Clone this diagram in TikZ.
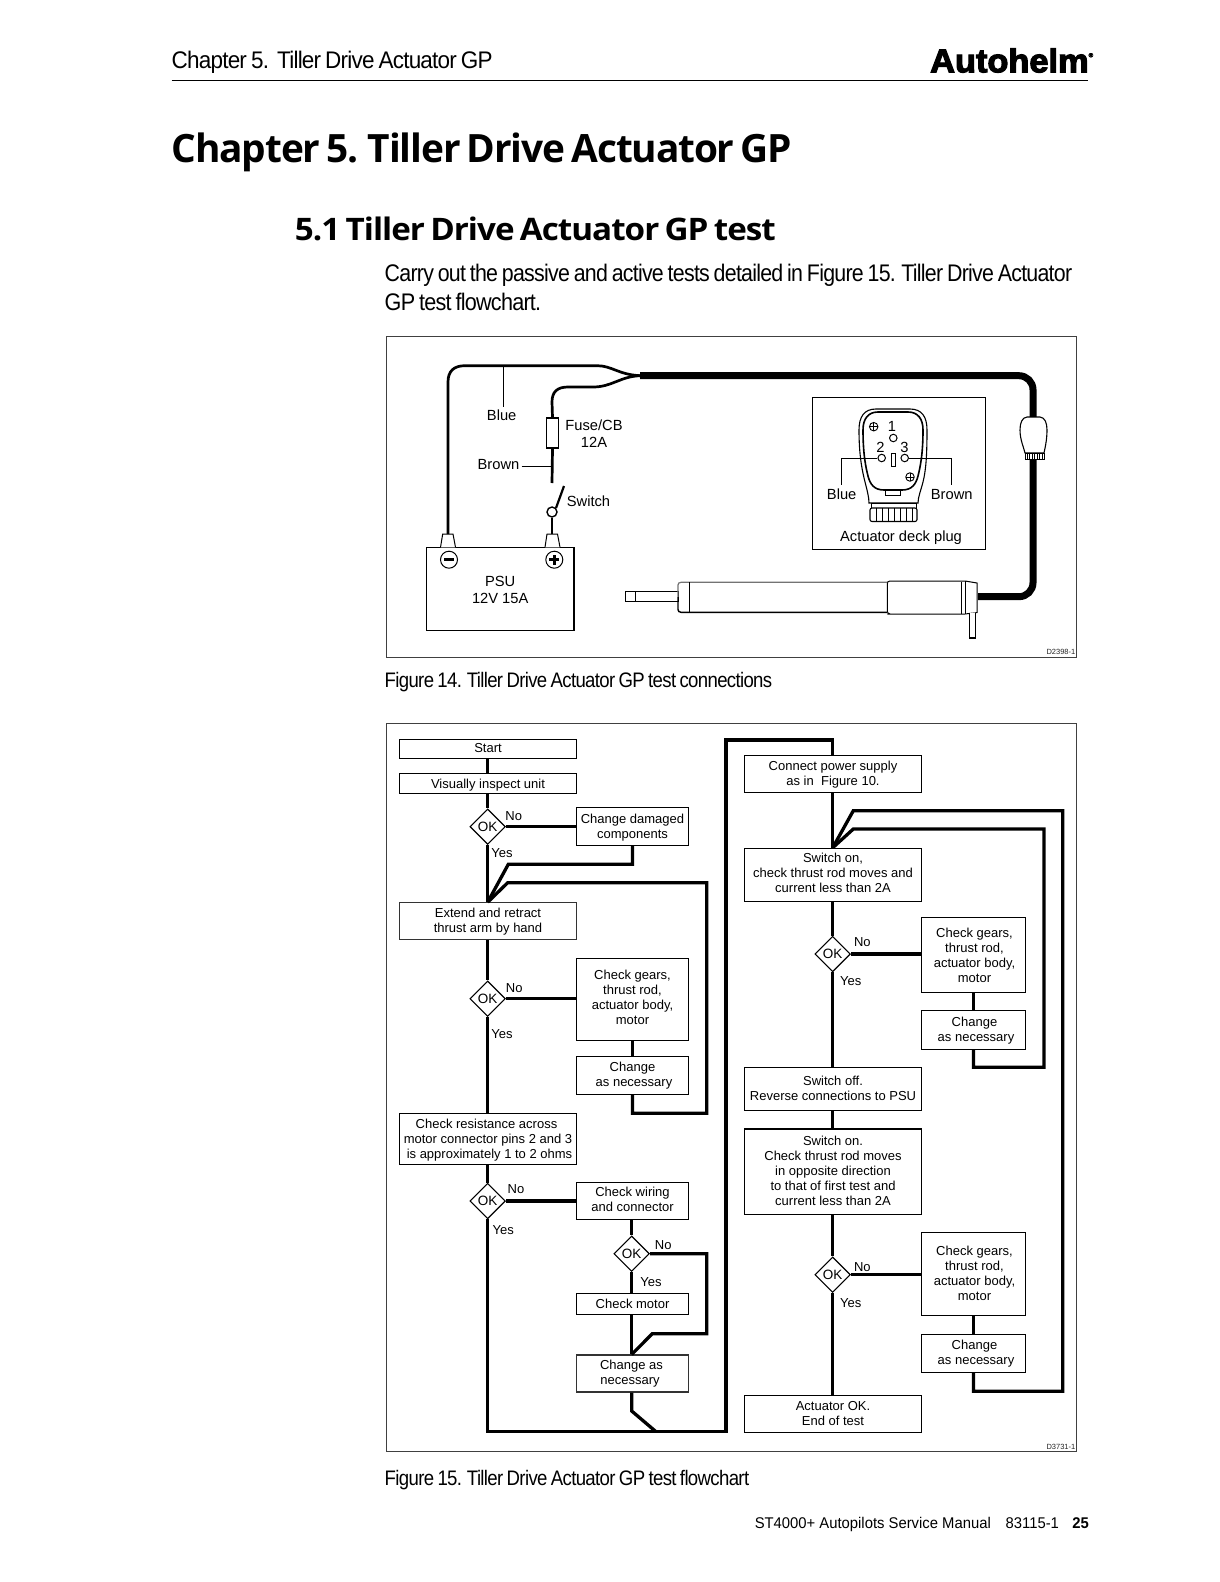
\documentclass[tikz,border=0pt]{standalone}
\usepackage{graphicx}
\usepackage{fontspec}
\setmainfont{Liberation Sans}
\newfontfamily\headfont[LetterSpace=-3,WordSpace=0.7]{Open Sans}
\newfontfamily\tightfont[LetterSpace=-3.5,WordSpace=0.75]{Liberation Sans}
\newfontfamily\logofont[FakeBold=3.5]{Liberation Sans Bold}
\usetikzlibrary{shapes.geometric}
\newcommand\fitw[2]{\resizebox{#1pt}{\height}{#2}}
\newcommand\lift[2]{\raisebox{#1}[\height][\depth]{\begin{tabular}{@{}c@{}}#2\end{tabular}}}
\tikzset{
  txt/.style={inner sep=0pt,anchor=west},
  pagetext/.style={txt,font=\tightfont\fontsize{24}{28}\selectfont},
  figcap/.style={txt,font=\tightfont\fontsize{21}{24}\selectfont},
  lab/.style={inner sep=0pt,font=\fontsize{14.7}{16.5}\selectfont,align=center},
  flowlab/.style={inner sep=0pt,font=\fontsize{13}{15}\selectfont},
  codelab/.style={inner sep=0pt,anchor=east,text=black!85,font=\fontsize{7.5}{9}\selectfont},
  framebox/.style={draw=black!75,line width=1.2pt},
  flowbox/.style={draw=black,line width=1.1pt,fill=white,inner sep=0pt,align=center,font=\fontsize{13}{15}\selectfont},
  decide/.style={shape=diamond,aspect=1,draw=black,line width=1.1pt,fill=white,inner sep=0pt,minimum width=35.5pt,minimum height=35.5pt,font=\fontsize{13.5}{15}\selectfont},
  flow/.style={draw=black,line width=3.3pt,line join=miter},
  wire/.style={draw=black,line width=2.7pt,line join=round},
  cableline/.style={draw=black,line width=7pt,rounded corners=14pt},
  hair/.style={draw=black,line width=1pt},
  pinhole/.style={draw=black,line width=1pt,fill=white},
}
\begin{document}
\begin{tikzpicture}[x=1pt,y=-1pt]
\useasboundingbox (0,0) rectangle (1219,1582);
\fill[white] (0,0) rectangle (1219,1582);

% page furniture
\node[pagetext] (hdr) at (171.5,62.5) {\fitw{321}{Chapter 5.\ \ Tiller Drive Actuator GP}};
\coordinate (ruleL) at (171.5,80.7);
\coordinate (ruleR) at (1088,80.7);
\draw[line width=1.1pt] (ruleL) -- (ruleR);
\node[txt,font=\logofont\fontsize{33}{33}\selectfont] (logo) at (930,60.5) {\fitw{163}{Autohelm\raisebox{15pt}{\fontsize{6}{6}\selectfont®}}};
\node[txt,font=\headfont\bfseries\fontsize{39}{42}\selectfont] (h1) at (171.5,152) {\fitw{620.5}{Chapter 5. Tiller Drive Actuator GP}};
\node[txt,font=\headfont\bfseries\fontsize{31}{34}\selectfont] (h2) at (294.7,229) {\fitw{481}{5.1 Tiller Drive Actuator GP test}};
\node[pagetext] (p1) at (384.5,275.5) {\fitw{687.5}{Carry out the passive and active tests detailed in Figure 15. Tiller Drive Actuator}};
\node[pagetext] (p2) at (384.5,301.5) {\fitw{156.5}{GP test flowchart.}};

% figure 14
\draw[framebox] (386.3,336.7) rectangle (1076.5,657.5);
\node[codelab] (c14) at (1075.5,652) {D2398-1};
\node[figcap] (cap14) at (384.5,682.5) {\fitw{387.5}{Figure 14. Tiller Drive Actuator GP test connections}};

\coordinate (merge) at (640,375.7);
% PSU
\node[lab,draw=black,line width=1.2pt,minimum width=147.7pt,minimum height=83pt,fill=white] (psu) at (500.2,588.8) {};
\node[lab] (psut) at (500.2,590) {PSU\\12V 15A};
\node[circle,draw=black,line width=1pt,minimum size=17pt,inner sep=0pt] (minus) at (449,559.7) {};
\node[circle,draw=black,line width=1pt,minimum size=17pt,inner sep=0pt] (plus) at (554.3,559.7) {};
\fill (444,558.2) rectangle (454,561.2);
\fill (549.3,558.2) rectangle (559.3,561.2);
\fill (552.8,554.7) rectangle (555.8,564.7);
% terminals
\draw[hair,fill=white] (440.5,547.3) -- (442.7,534) -- (453,534) -- (455.5,547.3);
\draw[hair,fill=white] (545,547.3) -- (547,534) -- (557.5,534) -- (560,547.3);
% fuse, switch
\coordinate (termN) at (448,534);
\coordinate (termP) at (552,534);
\node[draw=black,line width=1.4pt,fill=white,minimum width=11.5pt,minimum height=30pt,inner sep=0pt] (fuse) at (552.5,433) {};
\node[circle,draw=black,line width=1.4pt,fill=white,minimum size=10pt,inner sep=0pt] (sw) at (552,512) {};
\coordinate (swtop) at (552,483);
\coordinate (swarm) at (564,486);
% wires
\draw[wire] (termN) -- (448,382) .. controls (448,371) and (454,365.7) .. (465,365.7) -- (597,365.7) .. controls (612,365.7) and (618,374.5) .. (merge);
\draw[wire] (merge) .. controls (620,376.5) and (612,387) .. (593,387) -- (568,387) .. controls (557,387) and (552,392) .. (552,402) -- (fuse.north);
\draw[wire] (fuse.south) -- (swtop);
\draw[wire,line width=2.2pt] (sw.north east) -- (swarm);
\draw[wire] (sw.south) -- (termP);
\coordinate (actJ) at (978,596.7);
\draw[cableline] (merge) -- (1033,375.7) -- (1033,596.7) -- (actJ);
% cable plug
\draw[hair,fill=white,line width=1.1pt] (1027,417) .. controls (1022,417.5) and (1020,423) .. (1020,430) .. controls (1020,440) and (1024,448) .. (1025,453) -- (1044,453) .. controls (1045,448) and (1047,440) .. (1047,430) .. controls (1047,423) and (1045,417.5) .. (1040,417) -- cycle;
\draw[hair,fill=white] (1025,453) rectangle (1044,459.5);
\foreach \xx in {1027,1029.5,...,1043} \draw[line width=.6pt] (\xx,453) -- (\xx,459.5);
% actuator
\draw[hair,fill=white] (625.7,591.7) rectangle (635,601.7);
\draw[hair,fill=white] (635,591.7) rectangle (678,601.7);
\draw[draw=black!55,line width=1.2pt] (887,582.3) -- (681,582.3) .. controls (679,582.3) and (678,583.5) .. (678,585) -- (678,597);
\draw[line width=1.4pt] (678,597) -- (678,609.5) .. controls (678,611) and (679,612.3) .. (681,612.3) -- (887,612.3);
\draw[hair] (689.3,582.3) -- (689.3,612.3);
\draw[hair,fill=white] (887.3,614) -- (890,614) -- (965,614) -- (977,612.5) -- (977,583) -- (965,581) -- (890,581) .. controls (888,581) and (887.3,582) .. (887.3,584) -- (887.3,611) .. controls (887.3,612) and (888,614) .. (890,614);
\draw[hair] (965,581) -- (965,614);
\draw[hair] (961,581.5) -- (961,613.5);
\draw[line width=1.3pt,fill=white] (969.3,613) -- (969.3,638) -- (975.7,638) -- (975.7,612.5);
% labels diagram 1
\node[lab] (lblue) at (501.7,415) {Blue};
\coordinate (blueTap) at (503.3,366);
\draw[hair] (blueTap) -- (503.3,406.7);
\node[lab] (lfuse) at (594,433.5) {Fuse/CB\\12A};
\node[lab] (lbrown) at (498.5,465) {Brown};
\draw[hair] (lbrown.east) ++(2,1) -- (552,466);
\node[lab] (lswitch) at (588.5,501.7) {Switch};
% deck plug
\node[draw=black,line width=1.1pt,minimum width=173.4pt,minimum height=151.6pt,inner sep=0pt] (deck) at (899,473.5) {};
\draw[line width=1.1pt,fill=white] (893,409) -- (876,409) .. controls (864,409) and (859,417) .. (859,430) .. controls (859,455) and (862,470) .. (865,482) .. controls (867,490) and (869,497) .. (869,503) -- (918,503) .. controls (918,497) and (921,490) .. (923,482) .. controls (926,470) and (927,455) .. (927,430) .. controls (927,417) and (922,409) .. (910,409) -- cycle;
\draw[line width=1.6pt] (893,412) -- (878,412) .. controls (868,412) and (863,419) .. (863,430) .. controls (863,455) and (866,468) .. (868,476) .. controls (870,484) and (874,490) .. (884,490) -- (902,490) .. controls (912,490) and (916,484) .. (918,476) .. controls (920,468) and (923,455) .. (923,430) .. controls (923,419) and (918,412) .. (908,412) -- cycle;
\draw[hair] (885,490) -- (885,495.5) -- (900,495.5) -- (900,490);
\draw[hair,fill=white] (871,503) rectangle (916,508);
\draw[line width=1.1pt,rounded corners=2pt,fill=white] (870,508) rectangle (917,521.5);
\foreach \xx in {876,882,...,912} \draw[hair] (\xx,508) -- (\xx,521.5);
\foreach \pn/\px/\py in {scA/873.7/426.7,scB/910/477} {
  \node[circle,draw=black,line width=.9pt,minimum size=8.5pt,inner sep=0pt] (\pn) at (\px,\py) {};
  \draw[line width=.7pt] (\px-4,\py) -- (\px+4,\py) (\px,\py-4) -- (\px,\py+4);
}
\node[circle,pinhole,minimum size=7.5pt,inner sep=0pt] (pinA) at (893.3,438) {};
\node[circle,pinhole,minimum size=7.5pt,inner sep=0pt] (pinB) at (881.7,458) {};
\node[circle,pinhole,minimum size=7.5pt,inner sep=0pt] (pinC) at (904.7,458) {};
\node[draw=black,line width=1pt,minimum width=4pt,minimum height=13pt,inner sep=0pt] (slot) at (893.5,459.5) {};
\node[lab] (n1) at (892,426) {1};
\node[lab] (n2) at (880.5,447.5) {2};
\node[lab] (n3) at (904.5,447.5) {3};
\coordinate (lbT) at (841.7,485);
\coordinate (rbT) at (951.7,485);
\draw[hair] (pinB.west) -- (841.7,458) -- (lbT);
\draw[hair] (pinC.east) -- (951.7,458) -- (rbT);
\node[lab] (lb2) at (841.7,494) {Blue};
\node[lab] (rb2) at (951.7,495) {Brown};
\node[lab] (ldeck) at (901,537.5) {Actuator deck plug};

% figure 15
\draw[framebox] (386.3,723.3) rectangle (1076.5,1451.7);
\node[codelab] (c15) at (1075.5,1446.5) {D3731-1};
\node[figcap] (cap15) at (384.5,1480.5) {\fitw{364.5}{Figure 15. Tiller Drive Actuator GP test flowchart}};

% left column
\node[flowbox,minimum width=177.4pt,minimum height=19pt] (start) at (488,748.8) {\raisebox{1.5pt}{Start}};
\node[flowbox,minimum width=177.4pt,minimum height=20pt] (inspect) at (488,783.3) {\lift{-2pt}{Visually inspect unit}};
\node[decide] (d1) at (487.7,826.7) {OK};
\node[flowbox,minimum width=111.6pt,minimum height=37.6pt] (dmg) at (632.5,826.5) {\lift{-1pt}{Change damaged\\components}};
\node[flowbox,draw=black!80,minimum width=177.4pt,minimum height=37pt] (extend) at (488,921.2) {Extend and retract\\thrust arm by hand};
\node[decide] (d2) at (487.7,998.7) {OK};
\node[flowbox,minimum width=111.6pt,minimum height=82pt] (gearsA) at (632.5,999.3) {\lift{0pt}{Check gears,\\thrust rod,\\actuator body,\\motor}};
\node[flowbox,minimum width=111.6pt,minimum height=38pt] (chgA) at (632.5,1075.3) {Change\\\hspace*{3pt}as necessary};
\node[flowbox,minimum width=177.4pt,minimum height=51pt] (resist) at (488,1138.8) {\lift{-2pt}{\hspace*{-3pt}Check resistance across\\motor connector pins 2 and 3\\\hspace*{3pt}is approximately 1 to 2 ohms}};
\node[decide] (d3) at (487.7,1201) {OK};
\node[flowbox,minimum width=111.6pt,minimum height=36.6pt] (wiring) at (632.5,1201) {\lift{0pt}{Check wiring\\and connector}};
\node[decide] (d4) at (631.7,1253.7) {OK};
\node[flowbox,minimum width=111.6pt,minimum height=21pt] (motor) at (632.5,1303.8) {Check motor};
\node[flowbox,draw=black!80,minimum width=111.6pt,minimum height=37pt] (chgB) at (632.5,1373.5) {\hspace*{-2pt}Change as\\\hspace*{-5pt}necessary};

% right column
\node[flowbox,minimum width=177.4pt,minimum height=37pt] (power) at (833,773.8) {\lift{-1pt}{Connect power supply\\as in\ \ Figure 10.}};
\node[flowbox,minimum width=177.4pt,minimum height=53pt] (onA) at (833,874.8) {\lift{0pt}{Switch on,\\check thrust rod moves and\\current less than 2A}};
\node[decide] (d5) at (832.7,954) {OK};
\node[flowbox,minimum width=104.4pt,minimum height=75pt] (gearsB) at (973.5,954.8) {\hspace*{2pt}\lift{-2pt}{Check gears,\\thrust rod,\\actuator body,\\motor}};
\node[flowbox,minimum width=104.4pt,minimum height=39pt] (chgC) at (973.5,1029.8) {\hspace*{2pt}\lift{-1pt}{Change\\\hspace*{3pt}as necessary}};
\node[flowbox,minimum width=177.4pt,minimum height=43pt] (off) at (833,1088.8) {Switch off.\\Reverse connections to PSU};
\node[flowbox,minimum width=177.4pt,minimum height=85.3pt] (onB) at (833,1171.6) {\lift{-1pt}{Switch on.\\Check thrust rod moves\\in opposite direction\\to that of first test and\\current less than 2A}};
\node[decide] (d6) at (832.7,1274.7) {OK};
\node[flowbox,minimum width=104.4pt,minimum height=83pt] (gearsC) at (973.5,1273.8) {\hspace*{2pt}\lift{-1pt}{Check gears,\\thrust rod,\\actuator body,\\motor}};
\node[flowbox,minimum width=104.4pt,minimum height=38pt] (chgD) at (973.5,1353.3) {\hspace*{2pt}\lift{-1pt}{Change\\\hspace*{3pt}as necessary}};
\node[flowbox,minimum width=177.4pt,minimum height=37pt] (finish) at (833,1413.8) {Actuator OK.\\End of test};

% named junctions
\coordinate (joinEnd) at (656,1431.7);

% connectors
\draw[flow] (start.south -| d1.north) -- (inspect.north -| d1.north);
\draw[flow] (inspect.south -| d1.north) -- (d1.north);
\draw[flow] (d1.east) -- (dmg.west |- d1.east);
\draw[flow] (d1.south) -- (extend.north -| d1.south);
\draw[flow] (dmg.south) -- (632.5,864.3) -- (508.3,864.3) -- (extend.north -| d1.south);
\draw[flow] (chgA.south) -- (632.5,1113.3) -- (706.7,1113.3) -- (706.7,882.7) -- (507.7,882.7) -- (extend.north -| d1.south);
\draw[flow] (extend.south -| d2.north) -- (d2.north);
\draw[flow,line width=2.8pt] (d2.east) -- (gearsA.west |- d2.east);
\draw[flow] (gearsA.south) -- (chgA.north);
\draw[flow] (d2.south) -- (resist.north -| d2.south);
\draw[flow] (resist.south -| d3.north) -- (d3.north);
\draw[flow] (d3.east) -- (wiring.west |- d3.east);
\draw[flow,line width=2.8pt] (wiring.south -| d4.north) -- (d4.north);
\draw[flow,line width=2.8pt] (d4.south) -- (motor.north -| d4.south);
\draw[flow,line width=2.8pt] (motor.south -| d4.south) -- (chgB.north -| d4.south);
\draw[flow] (d4.east) -- (706.7,1253.7) -- (706.7,1333.7) -- (652.3,1333.7) -- (chgB.north -| d4.south);
\draw[flow] (chgB.south -| d4.south) -- (631.7,1411) -- (joinEnd);
\draw[flow] (d3.south) -- (487.7,1431.7) -- (726,1431.7) -- (726,740) -- (832.7,740) -- (power.north -| d5.north);
\draw[flow] (power.south -| d5.north) -- (onA.north -| d5.north);
\draw[flow] (chgD.south) -- (973.5,1391.3) -- (1062.7,1391.3) -- (1062.7,810.7) -- (853.3,810.7) -- (onA.north -| d5.north);
\draw[flow] (chgC.south) -- (973.5,1067.3) -- (1044,1067.3) -- (1044,829) -- (853.3,829) -- (onA.north -| d5.north);
\draw[flow,line width=2.8pt] (onA.south -| d5.north) -- (d5.north);
\draw[flow] (d5.east) -- (gearsB.west |- d5.east);
\draw[flow,line width=2.8pt] (gearsB.south) -- (chgC.north);
\draw[flow,line width=2.8pt] (d5.south) -- (off.north -| d5.south);
\draw[flow,line width=2.8pt] (off.south -| d5.south) -- (onB.north -| d5.south);
\draw[flow,line width=2.8pt] (onB.south -| d6.north) -- (d6.north);
\draw[flow] (d6.east) -- (gearsC.west |- d6.east);
\draw[flow,line width=2.8pt] (gearsC.south) -- (chgD.north);
\draw[flow,line width=2.8pt] (d6.south) -- (finish.north -| d6.south);

% yes / no
\node[flowlab] (no1) at (513.7,815.7) {No};
\node[flowlab] (yes1) at (502,852.7) {Yes};
\node[flowlab] (no2) at (514.3,987.7) {No};
\node[flowlab] (yes2) at (502,1033.7) {Yes};
\node[flowlab] (no3) at (516,1189.3) {No};
\node[flowlab] (yes3) at (503.3,1230) {Yes};
\node[flowlab] (no4) at (663.3,1244.7) {No};
\node[flowlab] (yes4) at (651,1281.7) {Yes};
\node[flowlab] (no5) at (862.3,941.7) {No};
\node[flowlab] (yes5) at (850.7,981) {Yes};
\node[flowlab] (no6) at (862.3,1266.8) {No};
\node[flowlab] (yes6) at (850.7,1302.7) {Yes};

% footer
\node[inner sep=0pt,anchor=east,font=\fontsize{15.5}{18}\selectfont] (foot) at (1089,1524.5) {\fitw{334}{ST4000+ Autopilots Service Manual\hspace{1em}83115-1\hspace{.9em}\textbf{25}}};
\end{tikzpicture}
\end{document}
